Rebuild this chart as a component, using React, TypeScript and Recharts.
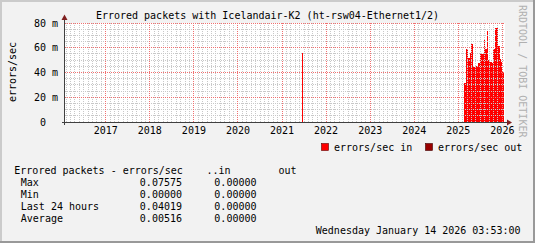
import { ComposedChart, Area, XAxis, YAxis, CartesianGrid, ReferenceLine } from 'recharts';

// decimal years, step values (errors/sec)
const inTimes = [
    2016.075, 2021.455, 2021.478, 2025.131, 2025.177, 2025.209, 2025.254, 2025.286, 2025.332,
    2025.363, 2025.410, 2025.456, 2025.487, 2025.580, 2025.611, 2025.642, 2025.673, 2025.719,
    2025.765, 2025.796, 2025.843, 2025.889, 2025.936, 2025.966, 2025.998, 2026.029,
];
const inRates = [
    0, 0.0556, 0, 0.0315, 0.0590, 0.0517, 0.0558, 0.0633, 0.0453,
    0.0444, 0.0450, 0.0477, 0.0550, 0.0670, 0.0590, 0.0735, 0.0500, 0.0485,
    0.0475, 0.0590, 0.07575, 0.0614, 0.0510, 0.0485, 0.0404, 0,
];

const yearTicks = [2017, 2018, 2019, 2020, 2021, 2022, 2023, 2024, 2025, 2026];
const rateTicks = [0, 0.02, 0.04, 0.06, 0.08];

const statLabels = ['Max', 'Min', 'Last 24 hours', 'Average'];
const statIn = ['0.07575', '0.00000', '0.04019', '0.00516'];
const statOut = ['0.00000', '0.00000', '0.00000', '0.00000'];

const FONT = '"DejaVu Sans Mono", monospace';
const X_DOMAIN: [number, number] = [2016.075, 2026.059];
const Y_DOMAIN: [number, number] = [0, 0.08];

const MINOR_GRID = '#c8c8c8';
const MAJOR_GRID = '#f07070';

// minor grid: 10 per year on x, every 5 m on y
const minorX: number[] = [];
for (let i = 20161; i <= 20260; i++) {
    if (i % 10 !== 0) minorX.push(i / 10);
}
const minorY: number[] = [];
for (let i = 1; i < 16; i++) {
    if (i % 4 !== 0) minorY.push(i * 0.005);
}

const data = inTimes.map((t, i) => ({ t, v: inRates[i] }));

function YTick(props: any) {
    const { x, y, payload } = props;
    const v = payload.value as number;
    const label = v === 0 ? '0' : `${Math.round(v * 1000)} m`;
    return (
        <text x={v === 0 ? x - 12 : x} y={y} dy="0.35em" textAnchor="end" fontFamily={FONT} fontSize={10} fill="#000">
            {label}
        </text>
    );
}

function XTick(props: any) {
    const { x, y, payload } = props;
    return (
        <text x={x} y={y} dy="0.71em" textAnchor="middle" fontFamily={FONT} fontSize={10} fill="#000">
            {payload.value}
        </text>
    );
}

export default function App() {
    return (
        <div style={{ position: 'absolute', left: 0, top: 0, width: 535, height: 243, background: '#f2f2f2' }}>
            <ComposedChart width={535} height={243} data={data} margin={{ top: 23, right: 30, bottom: 91, left: 5 }}>
                <CartesianGrid fill="#ffffff" horizontal={false} vertical={false} />
                <XAxis
                    type="number"
                    dataKey="t"
                    domain={X_DOMAIN}
                    ticks={yearTicks}
                    interval={0}
                    height={30}
                    axisLine={false}
                    tickLine={false}
                    tickSize={0}
                    tickMargin={5}
                    tick={<XTick />}
                    allowDataOverflow
                />
                <YAxis
                    type="number"
                    domain={Y_DOMAIN}
                    ticks={rateTicks}
                    interval={0}
                    width={60}
                    axisLine={false}
                    tickLine={false}
                    tickSize={0}
                    tickMargin={7}
                    tick={<YTick />}
                    allowDataOverflow
                />
                <Area
                    type="stepAfter"
                    dataKey="v"
                    fill="#ff0000"
                    fillOpacity={1}
                    stroke="none"
                    shapeRendering="crispEdges"
                    isAnimationActive={false}
                />
                {minorX.map(x => (
                    <ReferenceLine key={`mx-${x}`} x={x} stroke={MINOR_GRID} strokeDasharray="1 1" shapeRendering="crispEdges" />
                ))}
                {minorY.map(y => (
                    <ReferenceLine key={`my-${y}`} y={y} stroke={MINOR_GRID} strokeDasharray="1 1" shapeRendering="crispEdges" />
                ))}
                {yearTicks.map(x => (
                    <ReferenceLine key={`gx-${x}`} x={x} stroke={MAJOR_GRID} strokeDasharray="1 1" shapeRendering="crispEdges" />
                ))}
                {rateTicks.filter(v => v > 0).map(y => (
                    <ReferenceLine key={`gy-${y}`} y={y} stroke={MAJOR_GRID} strokeDasharray="1 1" shapeRendering="crispEdges" />
                ))}
            </ComposedChart>

            <svg width={535} height={243} style={{ position: 'absolute', left: 0, top: 0, pointerEvents: 'none' }}
                fontFamily={FONT} fontSize={10}>
                {/* frame */}
                <path d="M0 1H534M1 0V242" stroke="#cbcbcb" strokeWidth={2} />
                <path d="M0 242H535M534 0V243" stroke="#999999" strokeWidth={2} />

                {/* axes + arrows */}
                <line x1={62} y1={122.5} x2={508} y2={122.5} stroke="#404040" />
                <line x1={64.5} y1={125} x2={64.5} y2={19} stroke="#404040" />
                <polygon points="507,119.5 512,122.5 507,125.5" fill="#7f1f1f" />
                <polygon points="61.5,20 64.5,14.5 67.5,20" fill="#7f1f1f" />

                <text x={267.5} y={19} textAnchor="middle" fill="#000">
                    Errored packets with Icelandair-K2 (ht-rsw04-Ethernet1/2)
                </text>
                <text x={12} y={72} textAnchor="middle" dominantBaseline="central" transform="rotate(-90 12 72)" fill="#000">
                    errors/sec
                </text>
                <text x={522} y={5} dominantBaseline="central" transform="rotate(90 522 5)" fill="#b0b0b0">
                    RRDTOOL / TOBI OETIKER
                </text>

                {/* legend */}
                <rect x={321.5} y={143.5} width={7} height={7} fill="#ff0000" stroke="#600000" strokeWidth={0.6} />
                <text x={334} y={150.5} fill="#000">errors/sec in</text>
                <rect x={425.5} y={143.5} width={7} height={7} fill="#990000" stroke="#400000" strokeWidth={0.6} />
                <text x={438} y={150.5} fill="#000">errors/sec out</text>

                {/* stats table */}
                <text x={14.3} y={174.3} fill="#000">Errored packets - errors/sec</text>
                <text x={206.5} y={174.3} fill="#000">..in</text>
                <text x={278.5} y={174.3} fill="#000">out</text>
                {statLabels.map((label, i) => (
                    <g key={label}>
                        <text x={20.8} y={186.3 + i * 12} fill="#000">{label}</text>
                        <text x={182} y={186.3 + i * 12} textAnchor="end" fill="#000">{statIn[i]}</text>
                        <text x={256.5} y={186.3 + i * 12} textAnchor="end" fill="#000">{statOut[i]}</text>
                    </g>
                ))}
                <text x={520.5} y={234.3} textAnchor="end" fill="#000">Wednesday January 14 2026 03:53:00</text>
            </svg>
        </div>
    );
}
